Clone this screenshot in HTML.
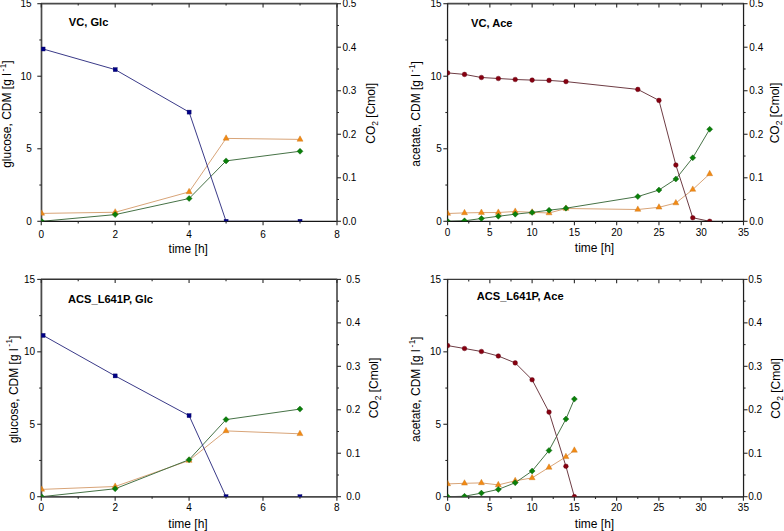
<!DOCTYPE html>
<html><head><meta charset="utf-8">
<style>
html,body{margin:0;padding:0;background:#fff;}
body{width:784px;height:531px;overflow:hidden;position:relative;}
svg{position:absolute;left:0;top:0;}
text{font-family:"Liberation Sans", sans-serif;fill:#000;}
</style></head><body>
<svg width="784" height="531" viewBox="0 0 784 531">
<clipPath id="cTL"><rect x="41.25" y="3.7" width="295.75" height="217.6"/></clipPath>
<g clip-path="url(#cTL)" fill="none" stroke-width="1.0">
<polyline points="41.62,213.4 115.19,212.25 189.12,191.9 226.09,138.4 300.03,139.4" stroke="#d8a478"/>
<polyline points="41.62,221.3 115.19,214.6 189.12,198.5 226.09,160.9 300.03,151.25" stroke="#467246"/>
<polyline points="43.1,49 115.19,69.6 189.12,112.1 226.09,221.3 300.03,221.3" stroke="#3a3a88"/>
</g>
<path d="M40.95 3.6H337.3" stroke="#4a4a4a" stroke-width="1.7"/>
<path d="M40.95 221.4H337.3" stroke="#151515" stroke-width="1.3"/>
<path d="M41.5 3.4V221.6" stroke="#4a4a4a" stroke-width="1.7"/>
<path d="M337 3.4V221.6" stroke="#5a5a5a" stroke-width="1.8"/>
<g stroke="#2a2a2a" stroke-width="1.1" fill="none">
<path d="M41.25 221.4V225.2M41.25 3.6V7.4"/>
<path d="M78.22 221.4V223.4M78.22 3.6V5.6"/>
<path d="M115.19 221.4V225.2M115.19 3.6V7.4"/>
<path d="M152.16 221.4V223.4M152.16 3.6V5.6"/>
<path d="M189.12 221.4V225.2M189.12 3.6V7.4"/>
<path d="M226.09 221.4V223.4M226.09 3.6V5.6"/>
<path d="M263.06 221.4V225.2M263.06 3.6V7.4"/>
<path d="M300.03 221.4V223.4M300.03 3.6V5.6"/>
<path d="M337 221.4V225.2M337 3.6V7.4"/>
<path d="M41.5 221.3H37.3"/>
<path d="M41.5 185.03H39.3"/>
<path d="M41.5 148.77H37.3"/>
<path d="M41.5 112.5H39.3"/>
<path d="M41.5 76.23H37.3"/>
<path d="M41.5 39.97H39.3"/>
<path d="M41.5 3.7H37.3"/>
<path d="M337 221.3H341"/>
<path d="M337 199.54H339"/>
<path d="M337 177.78H341"/>
<path d="M337 156.02H339"/>
<path d="M337 134.26H341"/>
<path d="M337 112.5H339"/>
<path d="M337 90.74H341"/>
<path d="M337 68.98H339"/>
<path d="M337 47.22H341"/>
<path d="M337 25.46H339"/>
<path d="M337 3.7H341"/>
</g>
<g clip-path="url(#cTL)" stroke-width="0.4">
<path d="M41.62 209.8L44.62 215.2L38.62 215.2Z" fill="#f28a14" stroke="#c8741a"/>
<path d="M115.19 208.65L118.19 214.05L112.19 214.05Z" fill="#f28a14" stroke="#c8741a"/>
<path d="M189.12 188.3L192.12 193.7L186.12 193.7Z" fill="#f28a14" stroke="#c8741a"/>
<path d="M226.09 134.8L229.09 140.2L223.09 140.2Z" fill="#f28a14" stroke="#c8741a"/>
<path d="M300.03 135.8L303.03 141.2L297.03 141.2Z" fill="#f28a14" stroke="#c8741a"/>
<path d="M41.62 218.3L44.62 221.3L41.62 224.3L38.62 221.3Z" fill="#0a800a" stroke="#0a5a0a"/>
<path d="M115.19 211.6L118.19 214.6L115.19 217.6L112.19 214.6Z" fill="#0a800a" stroke="#0a5a0a"/>
<path d="M189.12 195.5L192.12 198.5L189.12 201.5L186.12 198.5Z" fill="#0a800a" stroke="#0a5a0a"/>
<path d="M226.09 157.9L229.09 160.9L226.09 163.9L223.09 160.9Z" fill="#0a800a" stroke="#0a5a0a"/>
<path d="M300.03 148.25L303.03 151.25L300.03 154.25L297.03 151.25Z" fill="#0a800a" stroke="#0a5a0a"/>
<rect x="41.1" y="47" width="4" height="4" fill="#000088" stroke="#00005a"/>
<rect x="113.19" y="67.6" width="4" height="4" fill="#000088" stroke="#00005a"/>
<rect x="187.12" y="110.1" width="4" height="4" fill="#000088" stroke="#00005a"/>
<rect x="224.09" y="219.3" width="4" height="4" fill="#000088" stroke="#00005a"/>
<rect x="298.03" y="219.3" width="4" height="4" fill="#000088" stroke="#00005a"/>
</g>
<clipPath id="cTR"><rect x="447.6" y="3.7" width="295.9" height="217.6"/></clipPath>
<g clip-path="url(#cTR)" fill="none" stroke-width="1.0">
<polyline points="447.6,213.5 464.51,212.9 481.42,212.6 498.33,212.5 515.23,211.5 532.14,212.3 549.05,213 565.96,208.5 637.82,209.5 658.96,207.3 675.87,203 692.77,189.5 709.68,173.9" stroke="#d8a478"/>
<polyline points="447.6,221.3 464.51,220.8 481.42,218.5 498.33,216.25 515.23,214.2 532.14,212.4 549.05,210.2 565.96,208.2 637.82,196.6 658.96,190 675.87,179 692.77,157.75 709.68,129.25" stroke="#467246"/>
<polyline points="447.6,72.9 464.51,74.4 481.42,77.5 498.33,78.5 515.23,79.5 532.14,80.1 549.05,80.4 565.96,81.6 637.82,89.4 658.96,100.4 675.87,165 692.77,217.75 709.68,221.3" stroke="#6e3c44"/>
</g>
<path d="M447.3 3.6H743.8" stroke="#4a4a4a" stroke-width="1.7"/>
<path d="M447.3 221.4H743.8" stroke="#111111" stroke-width="1.3"/>
<path d="M447.55 3.4V221.6" stroke="#1e1e1e" stroke-width="1.25"/>
<path d="M743.55 3.4V221.6" stroke="#1e1e1e" stroke-width="1.25"/>
<g stroke="#2a2a2a" stroke-width="1.1" fill="none">
<path d="M447.6 221.4V225.2M447.6 3.6V7.4"/>
<path d="M468.74 221.4V223.4M468.74 3.6V5.6"/>
<path d="M489.87 221.4V225.2M489.87 3.6V7.4"/>
<path d="M511.01 221.4V223.4M511.01 3.6V5.6"/>
<path d="M532.14 221.4V225.2M532.14 3.6V7.4"/>
<path d="M553.28 221.4V223.4M553.28 3.6V5.6"/>
<path d="M574.41 221.4V225.2M574.41 3.6V7.4"/>
<path d="M595.55 221.4V223.4M595.55 3.6V5.6"/>
<path d="M616.69 221.4V225.2M616.69 3.6V7.4"/>
<path d="M637.82 221.4V223.4M637.82 3.6V5.6"/>
<path d="M658.96 221.4V225.2M658.96 3.6V7.4"/>
<path d="M680.09 221.4V223.4M680.09 3.6V5.6"/>
<path d="M701.23 221.4V225.2M701.23 3.6V7.4"/>
<path d="M722.36 221.4V223.4M722.36 3.6V5.6"/>
<path d="M743.5 221.4V225.2M743.5 3.6V7.4"/>
<path d="M447.55 221.3H443.35"/>
<path d="M447.55 185.03H445.35"/>
<path d="M447.55 148.77H443.35"/>
<path d="M447.55 112.5H445.35"/>
<path d="M447.55 76.23H443.35"/>
<path d="M447.55 39.97H445.35"/>
<path d="M447.55 3.7H443.35"/>
<path d="M743.55 221.3H747.55"/>
<path d="M743.55 199.54H745.55"/>
<path d="M743.55 177.78H747.55"/>
<path d="M743.55 156.02H745.55"/>
<path d="M743.55 134.26H747.55"/>
<path d="M743.55 112.5H745.55"/>
<path d="M743.55 90.74H747.55"/>
<path d="M743.55 68.98H745.55"/>
<path d="M743.55 47.22H747.55"/>
<path d="M743.55 25.46H745.55"/>
<path d="M743.55 3.7H747.55"/>
</g>
<g clip-path="url(#cTR)" stroke-width="0.4">
<path d="M447.6 209.9L450.6 215.3L444.6 215.3Z" fill="#f28a14" stroke="#c8741a"/>
<path d="M464.51 209.3L467.51 214.7L461.51 214.7Z" fill="#f28a14" stroke="#c8741a"/>
<path d="M481.42 209L484.42 214.4L478.42 214.4Z" fill="#f28a14" stroke="#c8741a"/>
<path d="M498.33 208.9L501.33 214.3L495.33 214.3Z" fill="#f28a14" stroke="#c8741a"/>
<path d="M515.23 207.9L518.23 213.3L512.23 213.3Z" fill="#f28a14" stroke="#c8741a"/>
<path d="M532.14 208.7L535.14 214.1L529.14 214.1Z" fill="#f28a14" stroke="#c8741a"/>
<path d="M549.05 209.4L552.05 214.8L546.05 214.8Z" fill="#f28a14" stroke="#c8741a"/>
<path d="M565.96 204.9L568.96 210.3L562.96 210.3Z" fill="#f28a14" stroke="#c8741a"/>
<path d="M637.82 205.9L640.82 211.3L634.82 211.3Z" fill="#f28a14" stroke="#c8741a"/>
<path d="M658.96 203.7L661.96 209.1L655.96 209.1Z" fill="#f28a14" stroke="#c8741a"/>
<path d="M675.87 199.4L678.87 204.8L672.87 204.8Z" fill="#f28a14" stroke="#c8741a"/>
<path d="M692.77 185.9L695.77 191.3L689.77 191.3Z" fill="#f28a14" stroke="#c8741a"/>
<path d="M709.68 170.3L712.68 175.7L706.68 175.7Z" fill="#f28a14" stroke="#c8741a"/>
<path d="M447.6 218.3L450.6 221.3L447.6 224.3L444.6 221.3Z" fill="#0a800a" stroke="#0a5a0a"/>
<path d="M464.51 217.8L467.51 220.8L464.51 223.8L461.51 220.8Z" fill="#0a800a" stroke="#0a5a0a"/>
<path d="M481.42 215.5L484.42 218.5L481.42 221.5L478.42 218.5Z" fill="#0a800a" stroke="#0a5a0a"/>
<path d="M498.33 213.25L501.33 216.25L498.33 219.25L495.33 216.25Z" fill="#0a800a" stroke="#0a5a0a"/>
<path d="M515.23 211.2L518.23 214.2L515.23 217.2L512.23 214.2Z" fill="#0a800a" stroke="#0a5a0a"/>
<path d="M532.14 209.4L535.14 212.4L532.14 215.4L529.14 212.4Z" fill="#0a800a" stroke="#0a5a0a"/>
<path d="M549.05 207.2L552.05 210.2L549.05 213.2L546.05 210.2Z" fill="#0a800a" stroke="#0a5a0a"/>
<path d="M565.96 205.2L568.96 208.2L565.96 211.2L562.96 208.2Z" fill="#0a800a" stroke="#0a5a0a"/>
<path d="M637.82 193.6L640.82 196.6L637.82 199.6L634.82 196.6Z" fill="#0a800a" stroke="#0a5a0a"/>
<path d="M658.96 187L661.96 190L658.96 193L655.96 190Z" fill="#0a800a" stroke="#0a5a0a"/>
<path d="M675.87 176L678.87 179L675.87 182L672.87 179Z" fill="#0a800a" stroke="#0a5a0a"/>
<path d="M692.77 154.75L695.77 157.75L692.77 160.75L689.77 157.75Z" fill="#0a800a" stroke="#0a5a0a"/>
<path d="M709.68 126.25L712.68 129.25L709.68 132.25L706.68 129.25Z" fill="#0a800a" stroke="#0a5a0a"/>
<circle cx="447.6" cy="72.9" r="2.35" fill="#860010" stroke="#600010"/>
<circle cx="464.51" cy="74.4" r="2.35" fill="#860010" stroke="#600010"/>
<circle cx="481.42" cy="77.5" r="2.35" fill="#860010" stroke="#600010"/>
<circle cx="498.33" cy="78.5" r="2.35" fill="#860010" stroke="#600010"/>
<circle cx="515.23" cy="79.5" r="2.35" fill="#860010" stroke="#600010"/>
<circle cx="532.14" cy="80.1" r="2.35" fill="#860010" stroke="#600010"/>
<circle cx="549.05" cy="80.4" r="2.35" fill="#860010" stroke="#600010"/>
<circle cx="565.96" cy="81.6" r="2.35" fill="#860010" stroke="#600010"/>
<circle cx="637.82" cy="89.4" r="2.35" fill="#860010" stroke="#600010"/>
<circle cx="658.96" cy="100.4" r="2.35" fill="#860010" stroke="#600010"/>
<circle cx="675.87" cy="165" r="2.35" fill="#860010" stroke="#600010"/>
<circle cx="692.77" cy="217.75" r="2.35" fill="#860010" stroke="#600010"/>
<circle cx="709.68" cy="221.3" r="2.35" fill="#860010" stroke="#600010"/>
</g>
<clipPath id="cBL"><rect x="41.25" y="279.4" width="295.65" height="217.3"/></clipPath>
<g clip-path="url(#cBL)" fill="none" stroke-width="1.0">
<polyline points="41.62,489.4 115.16,486.5 189.07,460.5 226.03,430.9 299.94,433.8" stroke="#d8a478"/>
<polyline points="41.62,496.7 115.16,488.75 189.07,459.7 226.03,419.6 299.94,409.1" stroke="#467246"/>
<polyline points="43.1,335.4 115.16,375.9 189.07,415.6 226.03,496.7 299.94,496.7" stroke="#3a3a88"/>
</g>
<path d="M40.95 279.3H337.2" stroke="#333333" stroke-width="1.4"/>
<path d="M40.95 496.85H337.2" stroke="#4a4a4a" stroke-width="1.8"/>
<path d="M41.4 279.1V497" stroke="#4a4a4a" stroke-width="1.8"/>
<path d="M337 279.1V497" stroke="#5a5a5a" stroke-width="1.8"/>
<g stroke="#2a2a2a" stroke-width="1.1" fill="none">
<path d="M41.25 496.85V500.65M41.25 279.3V283.1"/>
<path d="M78.21 496.85V498.85M78.21 279.3V281.3"/>
<path d="M115.16 496.85V500.65M115.16 279.3V283.1"/>
<path d="M152.12 496.85V498.85M152.12 279.3V281.3"/>
<path d="M189.07 496.85V500.65M189.07 279.3V283.1"/>
<path d="M226.03 496.85V498.85M226.03 279.3V281.3"/>
<path d="M262.99 496.85V500.65M262.99 279.3V283.1"/>
<path d="M299.94 496.85V498.85M299.94 279.3V281.3"/>
<path d="M336.9 496.85V500.65M336.9 279.3V283.1"/>
<path d="M41.4 496.7H37.2"/>
<path d="M41.4 460.48H39.2"/>
<path d="M41.4 424.27H37.2"/>
<path d="M41.4 388.05H39.2"/>
<path d="M41.4 351.83H37.2"/>
<path d="M41.4 315.62H39.2"/>
<path d="M41.4 279.4H37.2"/>
<path d="M337 496.7H341"/>
<path d="M337 474.97H339"/>
<path d="M337 453.24H341"/>
<path d="M337 431.51H339"/>
<path d="M337 409.78H341"/>
<path d="M337 388.05H339"/>
<path d="M337 366.32H341"/>
<path d="M337 344.59H339"/>
<path d="M337 322.86H341"/>
<path d="M337 301.13H339"/>
<path d="M337 279.4H341"/>
</g>
<g clip-path="url(#cBL)" stroke-width="0.4">
<path d="M41.62 485.8L44.62 491.2L38.62 491.2Z" fill="#f28a14" stroke="#c8741a"/>
<path d="M115.16 482.9L118.16 488.3L112.16 488.3Z" fill="#f28a14" stroke="#c8741a"/>
<path d="M189.07 456.9L192.07 462.3L186.07 462.3Z" fill="#f28a14" stroke="#c8741a"/>
<path d="M226.03 427.3L229.03 432.7L223.03 432.7Z" fill="#f28a14" stroke="#c8741a"/>
<path d="M299.94 430.2L302.94 435.6L296.94 435.6Z" fill="#f28a14" stroke="#c8741a"/>
<path d="M41.62 493.7L44.62 496.7L41.62 499.7L38.62 496.7Z" fill="#0a800a" stroke="#0a5a0a"/>
<path d="M115.16 485.75L118.16 488.75L115.16 491.75L112.16 488.75Z" fill="#0a800a" stroke="#0a5a0a"/>
<path d="M189.07 456.7L192.07 459.7L189.07 462.7L186.07 459.7Z" fill="#0a800a" stroke="#0a5a0a"/>
<path d="M226.03 416.6L229.03 419.6L226.03 422.6L223.03 419.6Z" fill="#0a800a" stroke="#0a5a0a"/>
<path d="M299.94 406.1L302.94 409.1L299.94 412.1L296.94 409.1Z" fill="#0a800a" stroke="#0a5a0a"/>
<rect x="41.1" y="333.4" width="4" height="4" fill="#000088" stroke="#00005a"/>
<rect x="113.16" y="373.9" width="4" height="4" fill="#000088" stroke="#00005a"/>
<rect x="187.07" y="413.6" width="4" height="4" fill="#000088" stroke="#00005a"/>
<rect x="224.03" y="494.7" width="4" height="4" fill="#000088" stroke="#00005a"/>
<rect x="297.94" y="494.7" width="4" height="4" fill="#000088" stroke="#00005a"/>
</g>
<clipPath id="cBR"><rect x="447.6" y="279.4" width="295.8" height="217.3"/></clipPath>
<g clip-path="url(#cBR)" fill="none" stroke-width="1.0">
<polyline points="447.6,483.9 464.5,483.3 481.41,482.9 498.31,484.9 515.21,480.8 532.11,477.9 549.02,467.4 565.92,456.8 574.37,450.4" stroke="#d8a478"/>
<polyline points="447.6,496.7 464.5,496.25 481.41,493.1 498.31,489.4 515.21,482.75 532.11,471 549.02,450.4 565.92,419.1 574.37,399.1" stroke="#467246"/>
<polyline points="447.6,345.6 464.5,348.5 481.41,351.5 498.31,356 515.21,362.9 532.11,379.75 549.02,412.1 565.92,466.25 574.37,496.7" stroke="#6e3c44"/>
</g>
<path d="M447.3 279.4H743.7" stroke="#3a3a3a" stroke-width="1.4"/>
<path d="M447.3 496.9H743.7" stroke="#444444" stroke-width="1.8"/>
<path d="M447.55 279.1V497" stroke="#1e1e1e" stroke-width="1.25"/>
<path d="M743.55 279.1V497" stroke="#1e1e1e" stroke-width="1.25"/>
<g stroke="#2a2a2a" stroke-width="1.1" fill="none">
<path d="M447.6 496.9V500.7M447.6 279.4V283.2"/>
<path d="M468.73 496.9V498.9M468.73 279.4V281.4"/>
<path d="M489.86 496.9V500.7M489.86 279.4V283.2"/>
<path d="M510.99 496.9V498.9M510.99 279.4V281.4"/>
<path d="M532.11 496.9V500.7M532.11 279.4V283.2"/>
<path d="M553.24 496.9V498.9M553.24 279.4V281.4"/>
<path d="M574.37 496.9V500.7M574.37 279.4V283.2"/>
<path d="M595.5 496.9V498.9M595.5 279.4V281.4"/>
<path d="M616.63 496.9V500.7M616.63 279.4V283.2"/>
<path d="M637.76 496.9V498.9M637.76 279.4V281.4"/>
<path d="M658.89 496.9V500.7M658.89 279.4V283.2"/>
<path d="M680.01 496.9V498.9M680.01 279.4V281.4"/>
<path d="M701.14 496.9V500.7M701.14 279.4V283.2"/>
<path d="M722.27 496.9V498.9M722.27 279.4V281.4"/>
<path d="M743.4 496.9V500.7M743.4 279.4V283.2"/>
<path d="M447.55 496.7H443.35"/>
<path d="M447.55 460.48H445.35"/>
<path d="M447.55 424.27H443.35"/>
<path d="M447.55 388.05H445.35"/>
<path d="M447.55 351.83H443.35"/>
<path d="M447.55 315.62H445.35"/>
<path d="M447.55 279.4H443.35"/>
<path d="M743.55 496.7H747.55"/>
<path d="M743.55 474.97H745.55"/>
<path d="M743.55 453.24H747.55"/>
<path d="M743.55 431.51H745.55"/>
<path d="M743.55 409.78H747.55"/>
<path d="M743.55 388.05H745.55"/>
<path d="M743.55 366.32H747.55"/>
<path d="M743.55 344.59H745.55"/>
<path d="M743.55 322.86H747.55"/>
<path d="M743.55 301.13H745.55"/>
<path d="M743.55 279.4H747.55"/>
</g>
<g clip-path="url(#cBR)" stroke-width="0.4">
<path d="M447.6 480.3L450.6 485.7L444.6 485.7Z" fill="#f28a14" stroke="#c8741a"/>
<path d="M464.5 479.7L467.5 485.1L461.5 485.1Z" fill="#f28a14" stroke="#c8741a"/>
<path d="M481.41 479.3L484.41 484.7L478.41 484.7Z" fill="#f28a14" stroke="#c8741a"/>
<path d="M498.31 481.3L501.31 486.7L495.31 486.7Z" fill="#f28a14" stroke="#c8741a"/>
<path d="M515.21 477.2L518.21 482.6L512.21 482.6Z" fill="#f28a14" stroke="#c8741a"/>
<path d="M532.11 474.3L535.11 479.7L529.11 479.7Z" fill="#f28a14" stroke="#c8741a"/>
<path d="M549.02 463.8L552.02 469.2L546.02 469.2Z" fill="#f28a14" stroke="#c8741a"/>
<path d="M565.92 453.2L568.92 458.6L562.92 458.6Z" fill="#f28a14" stroke="#c8741a"/>
<path d="M574.37 446.8L577.37 452.2L571.37 452.2Z" fill="#f28a14" stroke="#c8741a"/>
<path d="M447.6 493.7L450.6 496.7L447.6 499.7L444.6 496.7Z" fill="#0a800a" stroke="#0a5a0a"/>
<path d="M464.5 493.25L467.5 496.25L464.5 499.25L461.5 496.25Z" fill="#0a800a" stroke="#0a5a0a"/>
<path d="M481.41 490.1L484.41 493.1L481.41 496.1L478.41 493.1Z" fill="#0a800a" stroke="#0a5a0a"/>
<path d="M498.31 486.4L501.31 489.4L498.31 492.4L495.31 489.4Z" fill="#0a800a" stroke="#0a5a0a"/>
<path d="M515.21 479.75L518.21 482.75L515.21 485.75L512.21 482.75Z" fill="#0a800a" stroke="#0a5a0a"/>
<path d="M532.11 468L535.11 471L532.11 474L529.11 471Z" fill="#0a800a" stroke="#0a5a0a"/>
<path d="M549.02 447.4L552.02 450.4L549.02 453.4L546.02 450.4Z" fill="#0a800a" stroke="#0a5a0a"/>
<path d="M565.92 416.1L568.92 419.1L565.92 422.1L562.92 419.1Z" fill="#0a800a" stroke="#0a5a0a"/>
<path d="M574.37 396.1L577.37 399.1L574.37 402.1L571.37 399.1Z" fill="#0a800a" stroke="#0a5a0a"/>
<circle cx="447.6" cy="345.6" r="2.35" fill="#860010" stroke="#600010"/>
<circle cx="464.5" cy="348.5" r="2.35" fill="#860010" stroke="#600010"/>
<circle cx="481.41" cy="351.5" r="2.35" fill="#860010" stroke="#600010"/>
<circle cx="498.31" cy="356" r="2.35" fill="#860010" stroke="#600010"/>
<circle cx="515.21" cy="362.9" r="2.35" fill="#860010" stroke="#600010"/>
<circle cx="532.11" cy="379.75" r="2.35" fill="#860010" stroke="#600010"/>
<circle cx="549.02" cy="412.1" r="2.35" fill="#860010" stroke="#600010"/>
<circle cx="565.92" cy="466.25" r="2.35" fill="#860010" stroke="#600010"/>
<circle cx="574.37" cy="496.7" r="2.35" fill="#860010" stroke="#600010"/>
</g>
<g font-size="10.0">
<text x="31.7" y="224.9" text-anchor="end">0</text>
<text x="31.7" y="152.37" text-anchor="end">5</text>
<text x="31.7" y="79.83" text-anchor="end">10</text>
<text x="31.7" y="7.3" text-anchor="end">15</text>
<text x="41.25" y="237.7" text-anchor="middle">0</text>
<text x="115.19" y="237.7" text-anchor="middle">2</text>
<text x="189.12" y="237.7" text-anchor="middle">4</text>
<text x="263.06" y="237.7" text-anchor="middle">6</text>
<text x="337" y="237.7" text-anchor="middle">8</text>
<text x="342.5" y="224.9">0.0</text>
<text x="342.5" y="181.38">0.1</text>
<text x="342.5" y="137.86">0.2</text>
<text x="342.5" y="94.34">0.3</text>
<text x="342.5" y="50.82">0.4</text>
<text x="342.5" y="7.3">0.5</text>
</g>
<text x="188.3" y="252.75" font-size="12.0" text-anchor="middle">time [h]</text>
<text transform="translate(11.3,114.15) rotate(-90)" font-size="12.0" text-anchor="middle">glucose, CDM [g l <tspan font-size="8.4" dy="-5.4" dx="-1.6">-</tspan><tspan font-size="8.4" dx="0.5">1</tspan><tspan dy="5.4" dx="-0.3">]</tspan></text>
<text transform="translate(374.5,113.3) rotate(-90)" font-size="12.0" text-anchor="middle">CO<tspan font-size="8.4" dy="3">2</tspan><tspan dy="-3"> [Cmol]</tspan></text>
<text transform="translate(68.85,26.4) scale(1.01,1.065)" font-size="11.0" font-weight="bold">VC, Glc</text>
<g font-size="10.0">
<text x="441.7" y="224.9" text-anchor="end">0</text>
<text x="441.7" y="152.37" text-anchor="end">5</text>
<text x="441.7" y="79.83" text-anchor="end">10</text>
<text x="441.7" y="7.3" text-anchor="end">15</text>
<text x="447.6" y="235.9" text-anchor="middle">0</text>
<text x="489.87" y="235.9" text-anchor="middle">5</text>
<text x="532.14" y="235.9" text-anchor="middle">10</text>
<text x="574.41" y="235.9" text-anchor="middle">15</text>
<text x="616.69" y="235.9" text-anchor="middle">20</text>
<text x="658.96" y="235.9" text-anchor="middle">25</text>
<text x="701.23" y="235.9" text-anchor="middle">30</text>
<text x="743.5" y="235.9" text-anchor="middle">35</text>
<text x="749.3" y="224.9">0.0</text>
<text x="749.3" y="181.38">0.1</text>
<text x="749.3" y="137.86">0.2</text>
<text x="749.3" y="94.34">0.3</text>
<text x="749.3" y="50.82">0.4</text>
<text x="749.3" y="7.3">0.5</text>
</g>
<text x="594.5" y="252.25" font-size="12.0" text-anchor="middle">time [h]</text>
<text transform="translate(420.1,113.95) rotate(-90)" font-size="12.0" text-anchor="middle">acetate, CDM [g l <tspan font-size="8.4" dy="-5.4" dx="-1.6">-</tspan><tspan font-size="8.4" dx="0.5">1</tspan><tspan dy="5.4" dx="-0.3">]</tspan></text>
<text transform="translate(779.1,113) rotate(-90)" font-size="12.0" text-anchor="middle">CO<tspan font-size="8.4" dy="3">2</tspan><tspan dy="-3"> [Cmol]</tspan></text>
<text transform="translate(471,26.9) scale(1.01,1.065)" font-size="11.0" font-weight="bold">VC, Ace</text>
<g font-size="10.0">
<text x="35.1" y="500.3" text-anchor="end">0</text>
<text x="35.1" y="427.87" text-anchor="end">5</text>
<text x="35.1" y="355.43" text-anchor="end">10</text>
<text x="35.1" y="283" text-anchor="end">15</text>
<text x="41.25" y="510.9" text-anchor="middle">0</text>
<text x="115.16" y="510.9" text-anchor="middle">2</text>
<text x="189.07" y="510.9" text-anchor="middle">4</text>
<text x="262.99" y="510.9" text-anchor="middle">6</text>
<text x="336.9" y="510.9" text-anchor="middle">8</text>
<text x="346.3" y="500.3">0.0</text>
<text x="346.3" y="456.84">0.1</text>
<text x="346.3" y="413.38">0.2</text>
<text x="346.3" y="369.92">0.3</text>
<text x="346.3" y="326.46">0.4</text>
<text x="346.3" y="283">0.5</text>
</g>
<text x="188" y="528.1" font-size="12.0" text-anchor="middle">time [h]</text>
<text transform="translate(17.8,389.4) rotate(-90)" font-size="12.0" text-anchor="middle">glucose, CDM [g l <tspan font-size="8.4" dy="-5.4" dx="-1.6">-</tspan><tspan font-size="8.4" dx="0.5">1</tspan><tspan dy="5.4" dx="-0.3">]</tspan></text>
<text transform="translate(377.5,388) rotate(-90)" font-size="12.0" text-anchor="middle">CO<tspan font-size="8.4" dy="3">2</tspan><tspan dy="-3"> [Cmol]</tspan></text>
<text transform="translate(68.05,302.6) scale(1.01,1.065)" font-size="11.0" font-weight="bold">ACS_L641P, Glc</text>
<g font-size="10.0">
<text x="441.1" y="500.3" text-anchor="end">0</text>
<text x="441.1" y="427.87" text-anchor="end">5</text>
<text x="441.1" y="355.43" text-anchor="end">10</text>
<text x="441.1" y="283" text-anchor="end">15</text>
<text x="447.6" y="510.8" text-anchor="middle">0</text>
<text x="489.86" y="510.8" text-anchor="middle">5</text>
<text x="532.11" y="510.8" text-anchor="middle">10</text>
<text x="574.37" y="510.8" text-anchor="middle">15</text>
<text x="616.63" y="510.8" text-anchor="middle">20</text>
<text x="658.89" y="510.8" text-anchor="middle">25</text>
<text x="701.14" y="510.8" text-anchor="middle">30</text>
<text x="743.4" y="510.8" text-anchor="middle">35</text>
<text x="748.2" y="500.3">0.0</text>
<text x="748.2" y="456.84">0.1</text>
<text x="748.2" y="413.38">0.2</text>
<text x="748.2" y="369.92">0.3</text>
<text x="748.2" y="326.46">0.4</text>
<text x="748.2" y="283">0.5</text>
</g>
<text x="594.5" y="528.1" font-size="12.0" text-anchor="middle">time [h]</text>
<text transform="translate(420.3,389.3) rotate(-90)" font-size="12.0" text-anchor="middle">acetate, CDM [g l <tspan font-size="8.4" dy="-5.4" dx="-1.6">-</tspan><tspan font-size="8.4" dx="0.5">1</tspan><tspan dy="5.4" dx="-0.3">]</tspan></text>
<text transform="translate(780.4,388.5) rotate(-90)" font-size="12.0" text-anchor="middle">CO<tspan font-size="8.4" dy="3">2</tspan><tspan dy="-3"> [Cmol]</tspan></text>
<text transform="translate(476.7,300.4) scale(1.01,1.065)" font-size="11.0" font-weight="bold">ACS_L641P, Ace</text>
</svg>
</body></html>
